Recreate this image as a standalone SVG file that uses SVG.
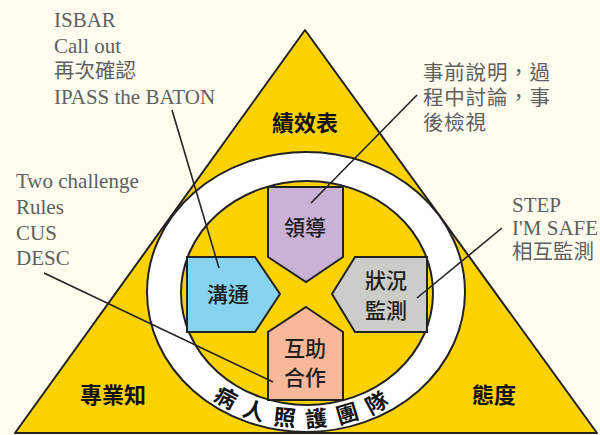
<svg xmlns="http://www.w3.org/2000/svg" width="600" height="435" viewBox="0 0 600 435">
<defs>
<style>
.bg{fill:#FEFDF0}
.tri{fill:#FCD200;stroke:#222;stroke-width:2;stroke-linejoin:round}
.ring{fill:#FFFFFF;stroke:#222;stroke-width:2}
.core{fill:#FCD200;stroke:#222;stroke-width:2}
.node{stroke:#222;stroke-width:2;stroke-linejoin:miter}
.conn{stroke:#222;stroke-width:1.6;fill:none}
.note{font-family:"Liberation Serif","Noto Sans CJK TC",serif;font-size:21px;fill:#5f5f5f}
.notecjk{font-family:"Noto Sans CJK TC","Noto Sans",sans-serif;font-size:20.5px;fill:#5f5f5f}
.lbl{font-family:"Noto Sans CJK TC","Noto Sans",sans-serif;font-size:21px;fill:#1e1e1e;font-weight:500;text-anchor:middle}
.big{font-family:"Noto Sans CJK TC","Noto Sans",sans-serif;font-size:22px;fill:#111;font-weight:700;text-anchor:middle}
.ringtxt{font-family:"Noto Sans CJK TC","Noto Sans",sans-serif;font-size:22px;fill:#111;font-weight:700;letter-spacing:11px}
</style>
<path id="arc" d="M 154,293 A 152,134 0 0,0 458,293"/>
</defs>
<rect class="bg" x="0" y="0" width="600" height="435"/>
<g id="triangle">
<polygon class="tri" points="305,30 15,433 597,433"/>
<text class="big" x="305" y="131">績效表</text>
<text class="big" x="113" y="403">專業知</text>
<text class="big" x="494" y="403">態度</text>
</g>
<g id="team-ring">
<ellipse class="ring" cx="306" cy="292" rx="159" ry="140"/>
<ellipse class="core" cx="307" cy="293" rx="126" ry="112"/>
<text class="ringtxt"><textPath href="#arc" startOffset="50%" text-anchor="middle">病人照護團隊</textPath></text>
</g>
<g id="lead">
<path class="node" fill="#C9B2D6" d="M268,187 L343,187 L343,257 L306,282 L268,257 Z"/>
<text class="lbl" x="305" y="235">領導</text>
</g>
<g id="communication">
<path class="node" fill="#86D3EF" d="M187,257 L255,257 L280,294 L255,332 L187,332 Z"/>
<text class="lbl" x="228" y="302">溝通</text>
</g>
<g id="monitoring">
<path class="node" fill="#CCCCC9" d="M427,257 L355,257 L332,294 L355,332 L427,332 Z"/>
<text class="lbl" x="386" y="288">狀況</text>
<text class="lbl" x="386" y="318">監測</text>
</g>
<g id="mutual-support">
<path class="node" fill="#F9B899" d="M306,307 L343,332 L343,400 L268,400 L268,332 Z"/>
<text class="lbl" x="305" y="356">互助</text>
<text class="lbl" x="305" y="385">合作</text>
</g>
<g id="note-communication">
<text class="note" x="54" y="27">ISBAR</text>
<text class="note" x="54" y="53">Call out</text>
<text class="notecjk" x="54" y="78">再次確認</text>
<text class="note" x="54" y="104">IPASS the BATON</text>
</g>
<g id="note-support">
<text class="note" x="16" y="188">Two challenge</text>
<text class="note" x="16" y="214">Rules</text>
<text class="note" x="16" y="240">CUS</text>
<text class="note" x="16" y="265">DESC</text>
</g>
<g id="note-lead">
<text class="notecjk" x="423" y="80" font-size="21" letter-spacing="0.8">事前說明，過</text>
<text class="notecjk" x="423" y="105" font-size="21" letter-spacing="0.8">程中討論，事</text>
<text class="notecjk" x="423" y="130" font-size="21" letter-spacing="0.8">後檢視</text>
</g>
<g id="note-monitoring">
<text class="note" x="512" y="212">STEP</text>
<text class="note" x="512" y="235">I'M SAFE</text>
<text class="notecjk" x="512" y="259">相互監測</text>
</g>
<g id="connectors">
<line class="conn" x1="172" y1="110" x2="219" y2="268"/>
<line class="conn" x1="417" y1="95" x2="311" y2="203"/>
<line class="conn" x1="44" y1="273" x2="273" y2="382"/>
<line class="conn" x1="502" y1="228" x2="417" y2="298"/>
</g>
</svg>
